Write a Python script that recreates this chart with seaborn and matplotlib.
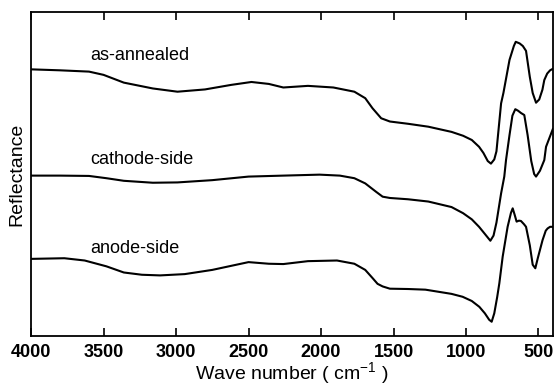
import matplotlib
matplotlib.use("Agg")
import matplotlib.pyplot as plt
import pandas as pd
import seaborn as sns

# spectra (wave number in cm-1, reflectance in arbitrary units, already offset)
wn_annealed = [4000, 3800, 3600, 3500, 3360, 3160, 2990, 2800, 2620, 2480, 2360, 2260, 2090, 1915, 1770,
               1695, 1645, 1585, 1525, 1400, 1260, 1100, 1020, 960, 910, 880, 850, 828, 805, 790, 758, 742,
               700, 670, 657, 630, 608, 586, 560, 540, 517, 495, 473, 460, 440, 420, 400]
r_annealed = [82.3, 82.0, 81.6, 80.6, 78.2, 76.4, 75.4, 76.1, 77.5, 78.4, 77.8, 76.7, 77.2, 76.7, 75.4,
              73.4, 70.3, 67.2, 66.2, 65.5, 64.6, 63.0, 61.8, 60.5, 58.4, 56.5, 54.0, 53.2, 54.5, 57.0, 71.8, 75.0,
              85.2, 89.5, 90.8, 90.3, 89.5, 88.0, 80.0, 75.0, 72.0, 73.0, 76.0, 79.0, 81.0, 82.0, 82.5]

wn_cathode = [4000, 3800, 3600, 3480, 3360, 3160, 2990, 2750, 2500, 2260, 2010, 1870, 1770, 1695, 1620,
              1575, 1525, 1400, 1260, 1100, 1020, 960, 910, 870, 832, 810, 790, 758, 736, 724, 700, 680,
              660, 640, 620, 598, 575, 550, 530, 517, 490, 460, 448, 430, 400]
r_cathode = [49.5, 49.5, 49.4, 48.7, 47.9, 47.3, 47.4, 48.1, 49.2, 49.5, 49.8, 49.5, 48.7, 47.1, 44.5,
             43.0, 42.6, 42.2, 41.5, 39.8, 37.9, 36.0, 33.7, 31.5, 29.4, 31.0, 35.0, 44.0, 49.2, 54.3, 62.0, 68.0,
             70.0, 69.5, 68.8, 68.2, 62.0, 54.0, 50.0, 49.2, 51.0, 54.3, 58.4, 60.5, 64.0]

wn_anode = [4000, 3770, 3630, 3480, 3360, 3235, 3110, 2940, 2750, 2500, 2360, 2260, 2090, 1890, 1770,
            1695, 1645, 1610, 1575, 1525, 1400, 1280, 1100, 1023, 960, 908, 870, 840, 823, 805, 785, 770,
            747, 713, 690, 678, 665, 651, 635, 621, 600, 586, 560, 540, 522, 505, 472, 450, 437, 420, 400]
r_anode = [23.8, 24.0, 23.3, 21.5, 19.6, 18.9, 18.7, 19.1, 20.4, 22.8, 22.3, 22.2, 23.1, 23.3, 22.3,
           20.4, 17.9, 16.1, 15.3, 14.6, 14.5, 14.3, 13.0, 12.1, 10.8, 9.0, 7.0, 5.0, 4.4, 7.0, 12.0, 16.3,
           24.5, 33.7, 38.0, 39.4, 37.5, 35.3, 35.6, 35.5, 34.5, 33.7, 28.0, 22.0, 20.9, 24.0, 29.6, 32.5, 33.2, 33.7, 33.7]

labels = ["as-annealed", "cathode-side", "anode-side"]
label_y = [86.7, 54.5, 27.1]
x_ticks = [4000, 3500, 3000, 2500, 2000, 1500, 1000, 500]

df = pd.concat([
    pd.DataFrame({"wn": wn_annealed, "R": r_annealed, "sample": labels[0]}),
    pd.DataFrame({"wn": wn_cathode, "R": r_cathode, "sample": labels[1]}),
    pd.DataFrame({"wn": wn_anode, "R": r_anode, "sample": labels[2]}),
])

sns.set_style("ticks")
plt.rcParams["font.family"] = ["Liberation Sans", "DejaVu Sans"]
plt.rcParams["mathtext.default"] = "regular"
plt.rcParams["text.color"] = "black"
plt.rcParams["axes.labelcolor"] = "black"

fig = plt.figure(figsize=(5.56, 3.87), dpi=100)
ax = fig.add_axes([0.0558, 0.1318, 0.9388, 0.8372])

for name in labels:
    sns.lineplot(data=df[df["sample"] == name], x="wn", y="R", sort=False,
                 color="black", linewidth=1.5, ax=ax)

for name, y in zip(labels, label_y):
    ax.text(3590, y, name, fontsize=13, va="center", ha="left", color="black")

ax.set_xlim(4000, 400)
ax.set_ylim(0, 100)
ax.set_xticks(x_ticks)
ax.set_xticklabels([str(t) for t in x_ticks], fontweight="bold", fontsize=13)
ax.set_yticks([])
ax.tick_params(axis="x", direction="in", length=6, width=1.2, top=True, pad=6, colors="black")
for sp in ax.spines.values():
    sp.set_linewidth(1.3)
    sp.set_color("black")

ax.set_xlabel("Wave number ( cm$^{-1}$ )", fontsize=14, labelpad=-1, color="black")
ax.set_ylabel("Reflectance", fontsize=14, labelpad=4, color="black")

fig.savefig("out.png", dpi=100)
